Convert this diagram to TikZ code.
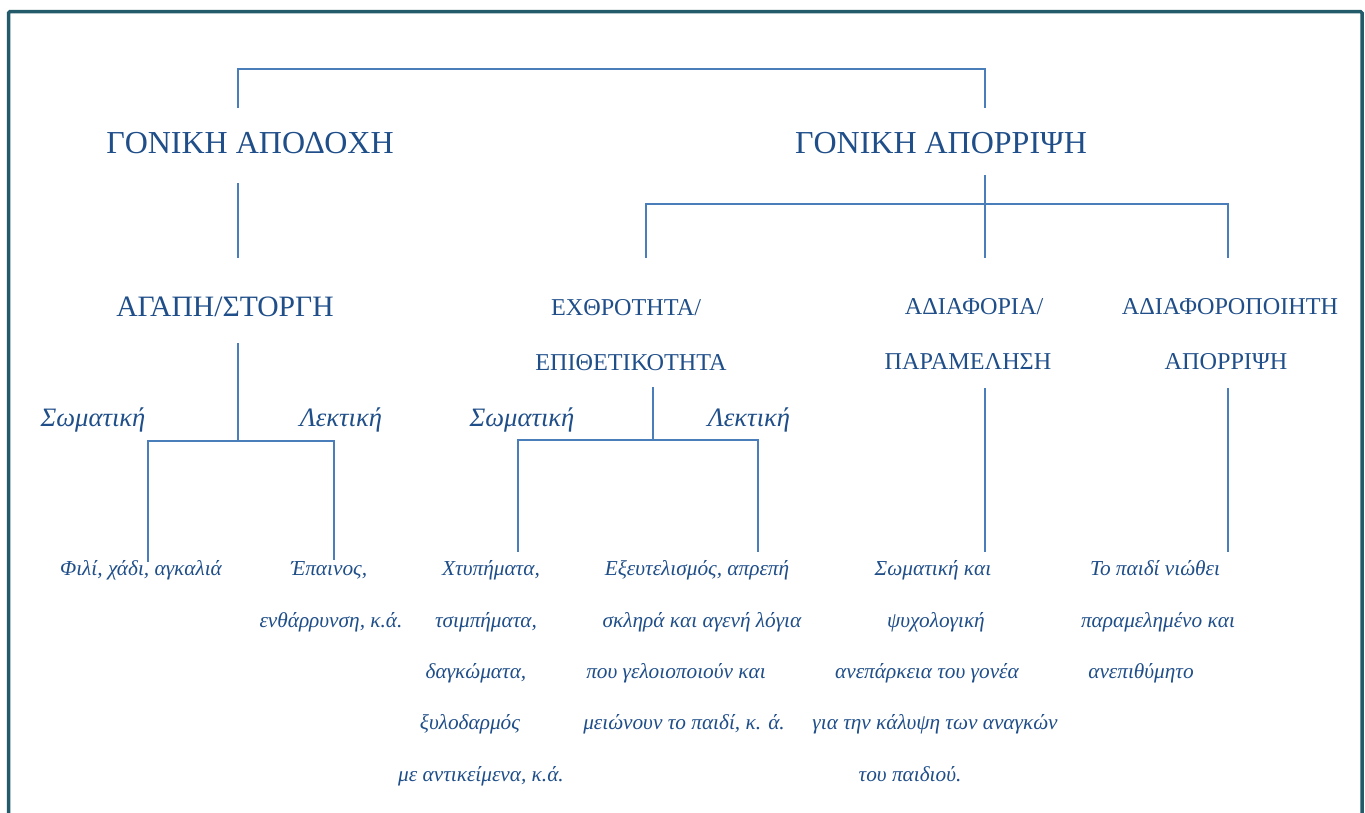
\documentclass[tikz,border=0pt]{standalone}
\usepackage{fontspec}
\setmainfont{Liberation Serif}
\definecolor{txtblue}{HTML}{1F4E89}
\definecolor{lineblue}{HTML}{4A7EBB}
\definecolor{frameteal}{HTML}{245B6B}
\tikzset{
  lbl/.style={inner sep=0pt, anchor=base, text=txtblue, font=\fontsize{#1}{#1}\selectfont},
  ilbl/.style={inner sep=0pt, anchor=base, text=txtblue, font=\fontsize{#1}{#1}\selectfont\itshape},
  conn/.style={draw=lineblue, line width=1.8pt},
}
\begin{document}
\begin{tikzpicture}[x=1pt, y=-1pt]
\useasboundingbox (0,0) rectangle (1365,812);
\clip (0,0) rectangle (1365,812);
% outer frame (open at the bottom)
\draw[frameteal, line width=3.5pt, rounded corners=1.5pt] (8.5,830) -- (8.5,11.5) -- (1362,11.5) -- (1362,830);

% level 1
\node[lbl=32] (acc) at (250,153) {ΓΟΝΙΚΗ ΑΠΟΔΟΧΗ};
\node[lbl=32] (rej) at (941,153) {ΓΟΝΙΚΗ ΑΠΟΡΡΙΨΗ};

% level 2
\node[lbl=29.6] (love) at (225,316) {ΑΓΑΠΗ/ΣΤΟΡΓΗ};
\node[lbl=24.2] (host1) at (626,315) {ΕΧΘΡΟΤΗΤΑ/};
\node[lbl=24.2] (host2) at (631,370) {ΕΠΙΘΕΤΙΚΟΤΗΤΑ};
\node[lbl=24.2] (negl1) at (974,314) {ΑΔΙΑΦΟΡΙΑ/};
\node[lbl=24.2] (negl2) at (968,369) {ΠΑΡΑΜΕΛΗΣΗ};
\node[lbl=24.2] (undif1) at (1230,314) {ΑΔΙΑΦΟΡΟΠΟΙΗΤΗ};
\node[lbl=24.2] (undif2) at (1226,369) {ΑΠΟΡΡΙΨΗ};

% level 3
\node[ilbl=26.6] (lsom) at (93,426) {Σωματική};
\node[ilbl=26.6] (llek) at (341,426) {Λεκτική};
\node[ilbl=26.6] (hsom) at (522,426) {Σωματική};
\node[ilbl=26.6] (hlek) at (749,426) {Λεκτική};

% leaves
\node[ilbl=21.3] (la1) at (141,575) {Φιλί, χάδι, αγκαλιά};
\node[ilbl=21.3] (lb1) at (329,575) {Έπαινος,};
\node[ilbl=21.3] (lb2) at (331,627) {ενθάρρυνση, κ.ά.};

\node[ilbl=21.3] (ha1) at (491,575) {Χτυπήματα,};
\node[ilbl=21.3] (ha2) at (486,627) {τσιμπήματα,};
\node[ilbl=21.3] (ha3) at (476,678) {δαγκώματα,};
\node[ilbl=21.3] (ha4) at (470,729) {ξυλοδαρμός};
\node[ilbl=21.3] (ha5) at (481,781) {με αντικείμενα, κ.ά.};

\node[ilbl=21.3] (hb1) at (697,575) {Εξευτελισμός, απρεπή};
\node[ilbl=21.3] (hb2) at (702,627) {σκληρά και αγενή λόγια};
\node[ilbl=21.3] (hb3) at (676,678) {που γελοιοποιούν και};
\node[ilbl=21.3] (hb4) at (684,729) {μειώνουν το παιδί, κ. ά.};

\node[ilbl=21.3] (n1) at (933,575) {Σωματική και};
\node[ilbl=21.3] (n2) at (936,627) {ψυχολογική};
\node[ilbl=21.3] (n3) at (927,678) {ανεπάρκεια του γονέα};
\node[ilbl=21.3] (n4) at (935,729) {για την κάλυψη των αναγκών};
\node[ilbl=21.3] (n5) at (910,781) {του παιδιού.};

\node[ilbl=21.3] (u1) at (1155,575) {Το παιδί νιώθει};
\node[ilbl=21.3] (u2) at (1158,627) {παραμελημένο και};
\node[ilbl=21.3] (u3) at (1141,678) {ανεπιθύμητο};

% connector end points
\coordinate (acc-up) at (238,108);
\coordinate (rej-up) at (985,108);
\coordinate (topbar) at (600,69);
\coordinate (acc-dn) at (238,183);
\coordinate (love-up) at (238,258);
\coordinate (rej-dn) at (985,175);
\coordinate (midbar) at (985,204);
\coordinate (host-up) at (646,258);
\coordinate (negl-up) at (985,258);
\coordinate (undif-up) at (1228,258);
\coordinate (love-dn) at (238,343);
\coordinate (lovebar) at (238,441);
\coordinate (lsom-end) at (148,562);
\coordinate (llek-end) at (334,560);
\coordinate (host-dn) at (653,387);
\coordinate (hostbar) at (653,440);
\coordinate (hsom-end) at (518,552);
\coordinate (hlek-end) at (758,552);
\coordinate (negl-dn) at (985,388);
\coordinate (negl-end) at (985,552);
\coordinate (undif-dn) at (1228,388);
\coordinate (undif-end) at (1228,552);

% connectors
\draw[conn] (acc-up) |- (topbar) -| (rej-up);
\draw[conn] (acc-dn) -- (love-up);
\draw[conn] (rej-dn) -- (negl-up);
\draw[conn] (host-up) |- (midbar) -| (undif-up);
\draw[conn] (love-dn) -- (lovebar);
\draw[conn] (lsom-end) |- (lovebar) -| (llek-end);
\draw[conn] (host-dn) -- (hostbar);
\draw[conn] (hsom-end) |- (hostbar) -| (hlek-end);
\draw[conn] (negl-dn) -- (negl-end);
\draw[conn] (undif-dn) -- (undif-end);
\end{tikzpicture}
\end{document}
